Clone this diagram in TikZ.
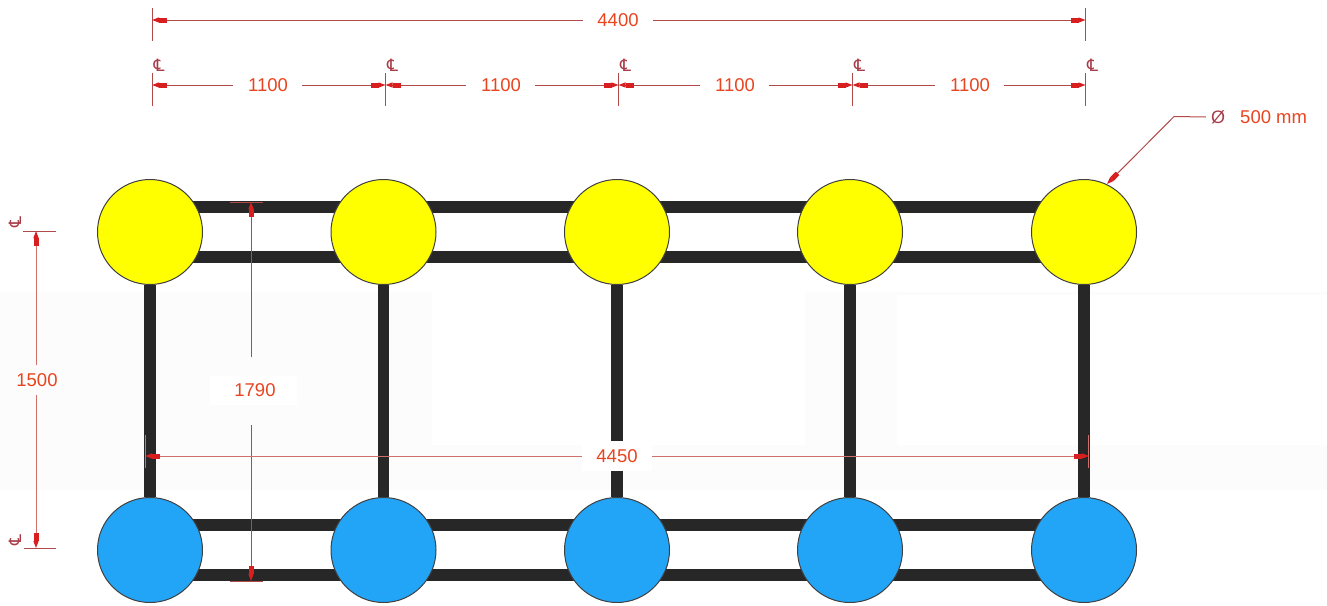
\documentclass[tikz,border=0pt]{standalone}
\usepackage{fontspec}
\setmainfont{Liberation Sans}
\newfontfamily\symfont{DejaVu Sans}
\usetikzlibrary{arrows.meta,backgrounds}
\definecolor{dimline}{HTML}{B04A48}
\definecolor{dimlight}{HTML}{D0706A}
\definecolor{dimtext}{HTML}{E8441F}
\definecolor{dimtip}{HTML}{D81F1F}
\definecolor{sym}{HTML}{A83C48}
\definecolor{beam}{HTML}{272727}
\definecolor{topcol}{HTML}{FFFF00}
\definecolor{botcol}{HTML}{22A5F7}
\definecolor{patch}{HTML}{FCFCFC}
\tikzset{
  x=1pt,y=-1pt,
  column/.style={circle,draw=black!75,line width=1pt,minimum size=105pt,inner sep=0pt},
  topc/.style={column,fill=topcol},
  botc/.style={column,fill=botcol},
  beamline/.style={beam,line width=11.5pt},
  tick/.style={dimline,line width=1pt},
  dimarrow/.style={dimline,line width=1pt,-{Rectangle[length=8pt,width=5pt,color=dimtip,sep=0pt]Triangle[length=7pt,width=5pt,color=dimtip]}},
  dimlabel/.style={text=dimtext,font=\fontsize{18.5}{18.5}\selectfont,inner sep=0pt},
  clmark/.style={text=sym,inner sep=0pt,font=\symfont\fontsize{17}{17}\selectfont},
}
\begin{document}
\begin{tikzpicture}
\useasboundingbox (0,0) rectangle (1327,605);

% columns
\foreach \n/\x in {1/150,2/383.5,3/617,4/850,5/1084}{
  \node[topc] (t\n) at (\x,232) {};
  \node[botc] (b\n) at (\x,550) {};
}
% beams
\begin{scope}[on background layer]
\fill[patch] (0,292) rectangle (1327,490);
\fill[white] (432,290) rectangle (805,445);
\fill[white] (897,295) rectangle (1327,445);
\fill[white] (210,376) rectangle (297,405);
\foreach \a/\b in {1/2,2/3,3/4,4/5}{
  \draw[beamline] ([yshift=25pt]t\a.center) -- ([yshift=25pt]t\b.center);
  \draw[beamline] ([yshift=-25pt]t\a.center) -- ([yshift=-25pt]t\b.center);
  \draw[beamline] ([yshift=25pt]b\a.center) -- ([yshift=25pt]b\b.center);
  \draw[beamline] ([yshift=-25pt]b\a.center) -- ([yshift=-25pt]b\b.center);
}
\foreach \n in {1,...,5}{\draw[beamline] (t\n) -- (b\n);}
\end{scope}

% top dimensions
\coordinate (o1) at (152,85); \coordinate (o2) at (385.5,85);
\coordinate (o3) at (618.5,85); \coordinate (o4) at (852.5,85);
\coordinate (o5) at (1085.5,85);
\foreach \n in {1,...,5}{
  \draw[tick] ([yshift=12pt]o\n) -- ([yshift=-21pt]o\n);
  \node[clmark] (cl\n) at ([shift={(7pt,20pt)}]o\n) {℄};
}
\draw[tick] (152,8) -- (152,41);
\draw[tick] (1085.5,8) -- (1085.5,41);

\node[dimlabel] (d4400) at (618,20) {4400};
\coordinate (a1) at (152,20); \coordinate (a2) at (1085.5,20);
\draw[dimarrow] (d4400.west) ++(-14,0) -- (a1);
\draw[dimarrow] (d4400.east) ++(14,0) -- (a2);

\foreach \p/\q/\lx/\n in {o1/o2/268/A,o2/o3/501/B,o3/o4/735/C,o4/o5/970/D}{
  \node[dimlabel] (dl\n) at (\lx,85) {1100};
  \draw[dimarrow] (dl\n.west) ++(-15,0) -- (\p);
  \draw[dimarrow] (dl\n.east) ++(14,0) -- (\q);
}

% diameter leader
\node[dimlabel,anchor=west] (dia) at (1240,117) {500 mm};
\node[text=sym,font=\fontsize{18}{18}\selectfont,inner sep=0pt] (ds) at (1218,117) {Ø};
\coordinate (elbow) at (1174,116.5);
\coordinate (dtip) at (1107,184);
\draw[dimarrow] (ds.west) ++(-5,0) -- (elbow) -- (dtip);

% left 1500
\coordinate (l1) at (36,231); \coordinate (l2) at (36,548);
\node[dimlabel] (d1500) at (37,380) {1500};
\draw[tick] (23,231) -- (56,231);
\draw[tick] (24,548) -- (56,548);
\draw[dimarrow,dimlight] (d1500.north -| l1) ++(0,-8) -- (l1);
\draw[dimarrow,dimlight] (d1500.south -| l1) ++(0,8) -- (l2);
\node[clmark,rotate=90] (cl6) at (15,222) {℄};
\node[clmark,rotate=90] (cl7) at (15,540) {℄};

% 1790
\coordinate (m1) at (251,202); \coordinate (m2) at (251,581);
\node[dimlabel] (d1790) at (255,390) {1790};
\draw[tick] (230,202) -- (263,202);
\draw[tick] (230,581) -- (263,581);
\draw[dimarrow] (d1790.north -| m1) ++(0,-26) -- (m1);
\draw[dimarrow] (d1790.south -| m1) ++(0,28) -- (m2);

% 4450
\node[dimlabel,fill=white,minimum width=70pt,minimum height=30pt] (d4450) at (617,456) {4450};
\coordinate (w1) at (145,456); \coordinate (w2) at (1089,456);
\draw[tick,dimlight] (145,435) -- (145,468);
\draw[tick,dimlight] (1088.5,435) -- (1088.5,468);
\draw[dimarrow,dimlight] (d4450.west) -- (w1);
\draw[dimarrow,dimlight] (d4450.east) -- (w2);
\end{tikzpicture}
\end{document}
